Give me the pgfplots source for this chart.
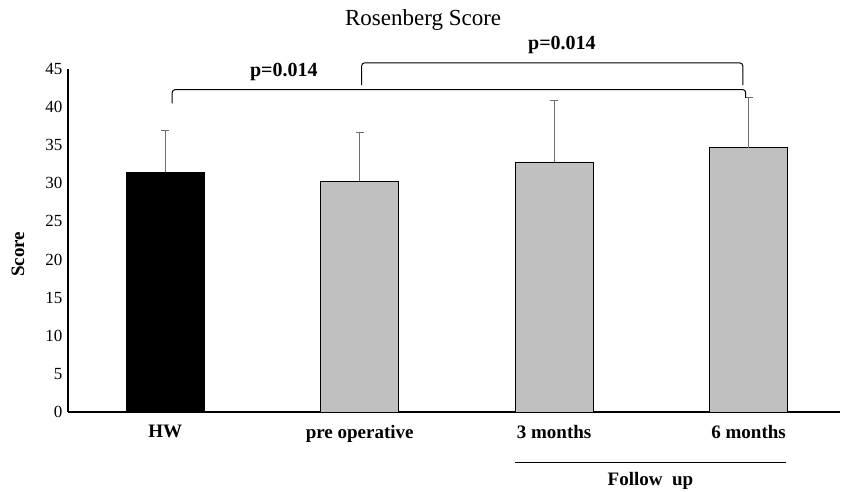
\documentclass[border=0pt]{standalone}
\usepackage{pgfplots}
\pgfplotsset{compat=1.18}
\usepackage{fontspec}
\setmainfont{Liberation Serif}
\definecolor{bargray}{RGB}{192,192,192}
\definecolor{errgray}{RGB}{110,110,110}
\begin{document}
\begin{tikzpicture}
\useasboundingbox (-68pt,-79pt) rectangle (776pt,412pt);
\begin{axis}[
  at={(0,0)}, anchor=south west,
  scale only axis, width=772pt, height=343pt,
  xmin=-0.5, xmax=3.47, ymin=0, ymax=45,
  axis x line=bottom, axis y line=left,
  axis line style={line width=1.4pt, -},
  ytick={0,5,...,45},
  xtick={0,1,2,3},
  xticklabels={HW, pre operative, 3 months, 6 months},
  major tick length=0pt,
  x tick label style={font=\fontsize{19}{21}\selectfont\bfseries, yshift=-10pt},
  y tick label style={font=\fontsize{17}{19}\selectfont, xshift=-2pt},
  /pgf/number format/assume math mode=true,
  ylabel={\textbf{Score}},
  ylabel style={font=\fontsize{19}{21}\selectfont, at={(axis description cs:-0.065,0.46)}, anchor=center},
  title={Rosenberg Score},
  title style={font=\fontsize{23}{25}\selectfont, at={(axis description cs:0.46,1)}, anchor=base, yshift=38pt},
  clip=false,
  ybar, bar width=78pt, bar shift=0pt,
]
\addplot[fill=black, draw=black,
  error bars/.cd, y dir=plus, y explicit,
  error bar style={errgray, line width=1pt}, error mark options={errgray, line width=1pt, mark size=4pt, rotate=90}]
  coordinates {(0,31.5) +- (0,5.4)};
\addplot[fill=bargray, draw=black, line width=0.8pt,
  error bars/.cd, y dir=plus, y explicit,
  error bar style={errgray, line width=1pt}, error mark options={errgray, line width=1pt, mark size=4pt, rotate=90}]
  coordinates {(1,30.3) +- (0,6.4) (2,32.8) +- (0,8.1) (3,34.7) +- (0,6.5)};
% significance brackets
\draw[line width=1pt, rounded corners=3pt] (axis cs:0.036,40.5) -- (axis cs:0.036,42.3) -- (axis cs:2.985,42.3) -- (axis cs:2.985,41.2);
\draw[line width=1pt, rounded corners=3pt] (axis cs:1.01,42.9) -- (axis cs:1.01,45.8) -- (axis cs:2.97,45.8) -- (axis cs:2.97,42.9);
\node[font=\fontsize{20}{22}\selectfont\bfseries] at (axis cs:0.61,44.6) {p=0.014};
\node[font=\fontsize{20}{22}\selectfont\bfseries] at (axis cs:2.04,48.2) {p=0.014};
% follow up
\draw[line width=1pt] ([yshift=-50pt]axis cs:1.80,0) -- ([yshift=-50pt]axis cs:3.19,0);
\node[font=\fontsize{19}{21}\selectfont\bfseries] at ([yshift=-69pt]axis cs:2.495,0) {Follow\ \ up};
\end{axis}
\end{tikzpicture}
\end{document}
